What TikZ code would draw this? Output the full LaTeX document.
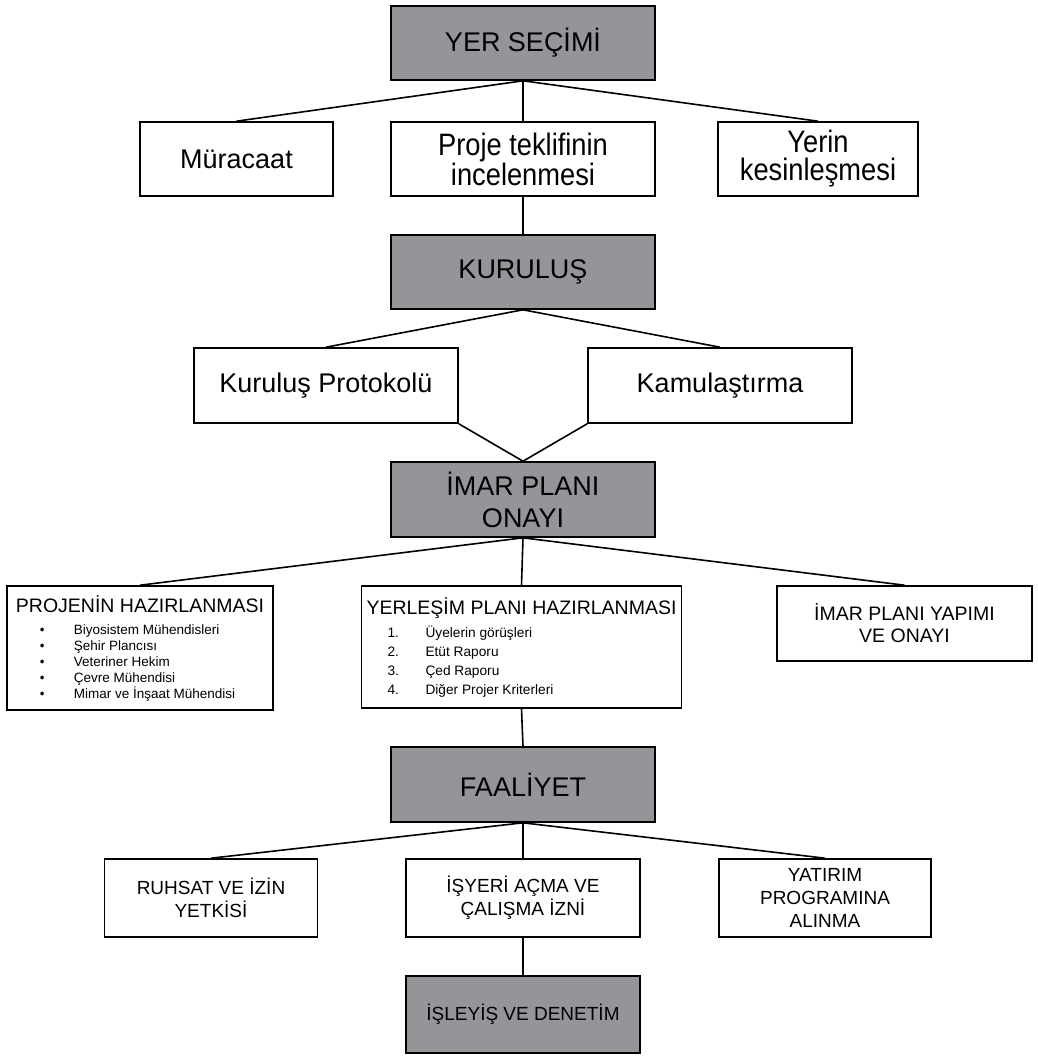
\documentclass[tikz,border=0pt]{standalone}
\usepackage{fontspec}
\setmainfont{Liberation Sans}
\newfontfamily\narrowsans[FakeStretch=0.88]{Liberation Sans}
\definecolor{stepgray}{RGB}{148,149,153}
\newcommand\headtxt{\fontsize{27}{32}\selectfont}
\newcommand\tallhead{\narrowsans\fontsize{31}{28}\selectfont}
\newcommand\subtxt{\fontsize{19}{23}\selectfont}
\newcommand\listhead{\fontsize{19.5}{22}\selectfont}
\newcommand\bulletrow[1]{\hspace*{24pt}\makebox[34pt][l]{\textbullet}#1}
\newcommand\numrow[2]{\hspace*{21pt}\makebox[38pt][l]{#1}#2}

\begin{document}
\begin{tikzpicture}[x=1pt,y=-1pt,
    every node/.style={draw,line width=1.6pt,rectangle,align=center,inner sep=4pt},
    mainbox/.style={fill=stepgray,minimum width=264pt,minimum height=74pt,font=\headtxt},
    subbox/.style={fill=white,minimum height=74pt,font=\headtxt},
    listbox/.style={fill=white,align=left,inner sep=5pt},
    link/.style={line width=1.6pt}]
    \useasboundingbox (0,0) rectangle (1037,1057);
    \node[mainbox] (yer) at (523,43) {YER SEÇİMİ};
    \node[subbox,minimum width=193pt] (muracaat) at (236.5,159) {Müracaat};
    \node[subbox,minimum width=264pt,font=\tallhead] (proje) at (523,159) {Proje teklifinin\\incelenmesi};
    \node[subbox,minimum width=200pt,font=\tallhead] (yerin) at (818,159) {Yerin\\kesinleşmesi};
    \node[mainbox] (kurulus) at (523,272) {KURULUŞ};
    \node[subbox,minimum width=264pt,minimum height=75pt] (protokol) at (326,385.5) {Kuruluş Protokolü};
    \node[subbox,minimum width=264pt,minimum height=75pt] (kamu) at (720,385.5) {Kamulaştırma};
    \node[mainbox,minimum height=75pt] (imar) at (523,499.5) {İMAR PLANI\\ONAYI};
    \node[listbox,minimum width=266pt,minimum height=124pt,font=\fontsize{13.5}{16}\selectfont] (projenin) at (140,648) {{\listhead PROJENİN HAZIRLANMASI}\\[6pt]
        \bulletrow{Biyosistem Mühendisleri}\\
        \bulletrow{Şehir Plancısı}\\
        \bulletrow{Veteriner Hekim}\\
        \bulletrow{Çevre Mühendisi}\\
        \bulletrow{Mimar ve İnşaat Mühendisi}};
    \node[listbox,minimum width=320pt,minimum height=122pt,font=\fontsize{13.7}{19}\selectfont] (yerlesim) at (521.5,647) {{\listhead YERLEŞİM PLANI HAZIRLANMASI}\\[4pt]
        \numrow{1.}{Üyelerin görüşleri}\\
        \numrow{2.}{Etüt Raporu}\\
        \numrow{3.}{Çed Raporu}\\
        \numrow{4.}{Diğer Projer Kriterleri}};
    \node[subbox,minimum width=255pt,minimum height=75pt,font=\listhead] (imaryap) at (904.5,623.5) {İMAR PLANI YAPIMI\\VE ONAYI};
    \node[mainbox,minimum height=75pt] (faaliyet) at (523,784.5) {FAALİYET};
    \node[subbox,minimum width=213pt,minimum height=78pt,font=\subtxt] (ruhsat) at (211,898) {RUHSAT VE İZİN\\YETKİSİ};
    \node[subbox,minimum width=234pt,minimum height=78pt,font=\subtxt] (isyeri) at (523,898) {İŞYERİ AÇMA VE\\ÇALIŞMA İZNİ};
    \node[subbox,minimum width=212pt,minimum height=78pt,font=\subtxt] (yatirim) at (825,898) {YATIRIM\\PROGRAMINA\\ALINMA};
    \node[mainbox,minimum width=234pt,minimum height=77pt,font=\subtxt] (isleyis) at (523,1014.5) {İŞLEYİŞ VE DENETİM};
    \foreach \a/\b in {yer.south/muracaat.north,yer.south/proje.north,yer.south/yerin.north,
        proje.south/kurulus.north,kurulus.south/protokol.north,kurulus.south/kamu.north,
        protokol.south east/imar.north,kamu.south west/imar.north,
        imar.south/projenin.north,imar.south/yerlesim.north,imar.south/imaryap.north,
        yerlesim.south/faaliyet.north,faaliyet.south/ruhsat.north,faaliyet.south/isyeri.north,
        faaliyet.south/yatirim.north,isyeri.south/isleyis.north}
        \draw[link] (\a) -- (\b);
\end{tikzpicture}
\end{document}
